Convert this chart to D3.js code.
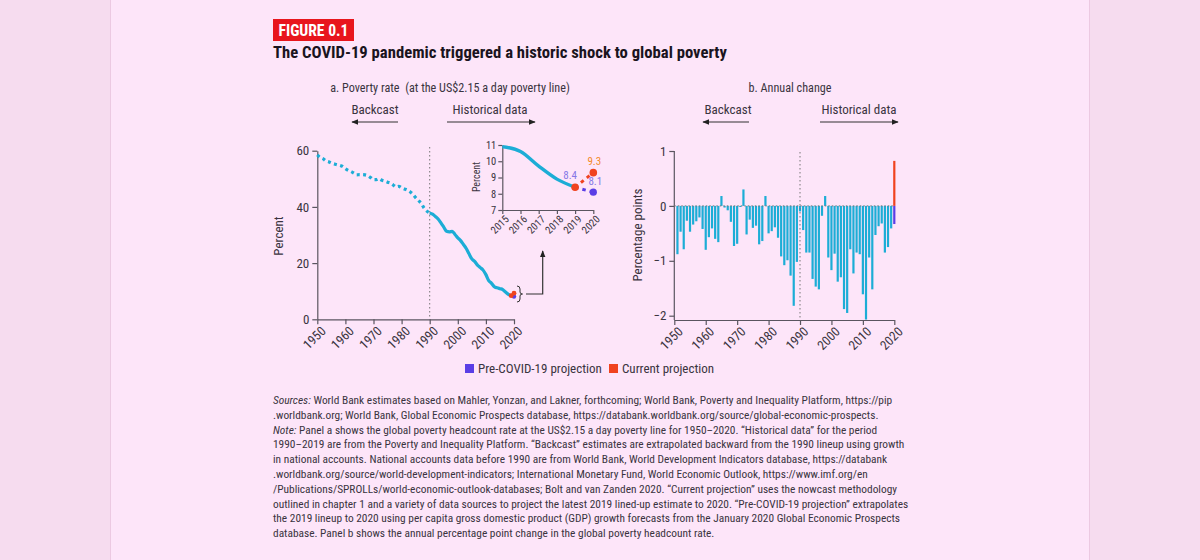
<!DOCTYPE html>
<html><head><meta charset="utf-8">
<script src="https://cdn.jsdelivr.net/npm/d3@7"></script>
<style>
html,body{margin:0;padding:0;background:#f6dcef;}
svg{display:block}
text{font-family:"Liberation Sans Narrow","Roboto Condensed","DejaVu Sans Condensed","Liberation Sans",sans-serif;font-stretch:condensed;}
</style></head><body>
<svg id="c" width="1200" height="560"></svg>
<script>
// ---------- DATA ----------
const backcastYears = [1950,1951,1952,1953,1954,1955,1956,1957,1958,1959,1960,1961,1962,1963,1964,1965,1966,1967,1968,1969,1970,1971,1972,1973,1974,1975,1976,1977,1978,1979,1980,1981,1982,1983,1984,1985,1986,1987,1988,1989,1990];
const backcastRate = [58.5,57.6,57.2,56.4,56.1,55.6,55.3,55.0,54.8,54.4,53.6,53.0,52.6,52.0,51.4,51.5,51.5,51.4,51.1,50.4,49.7,49.7,50.0,49.5,49.2,48.8,48.5,47.8,47.1,47.3,46.8,46.4,46.0,45.4,44.5,43.3,42.3,41.2,39.6,38.5,37.8];
const histYears = [1990,1991,1992,1993,1994,1995,1996,1997,1998,1999,2000,2001,2002,2003,2004,2005,2006,2007,2008,2009,2010,2011,2012,2013,2014,2015,2016,2017,2018,2019];
const histRate = [37.8,37.4,36.6,35.7,34.3,32.8,31.3,31.1,31.3,30.2,29.0,28.0,26.6,25.2,23.3,21.5,20.6,19.3,18.4,17.5,15.9,13.8,12.8,11.6,11.2,10.9,10.6,9.7,8.9,8.4];
const projYears = [2019,2020];
const currentProj = [8.4,9.3];
const preCovidProj = [8.4,8.1];
const changeYears = [1951,1952,1953,1954,1955,1956,1957,1958,1959,1960,1961,1962,1963,1964,1965,1966,1967,1968,1969,1970,1971,1972,1973,1974,1975,1976,1977,1978,1979,1980,1981,1982,1983,1984,1985,1986,1987,1988,1989,1990,1991,1992,1993,1994,1995,1996,1997,1998,1999,2000,2001,2002,2003,2004,2005,2006,2007,2008,2009,2010,2011,2012,2013,2014,2015,2016,2017,2018,2019];
const changeValues = [-0.88,-0.47,-0.79,-0.27,-0.47,-0.34,-0.28,-0.21,-0.42,-0.80,-0.57,-0.41,-0.60,-0.66,0.18,-0.03,-0.08,-0.29,-0.73,-0.69,-0.02,0.30,-0.52,-0.25,-0.40,-0.36,-0.70,-0.64,0.18,-0.50,-0.46,-0.39,-0.58,-0.92,-1.08,-0.99,-1.27,-1.82,-1.02,-0.10,-0.44,-0.85,-0.85,-1.33,-1.47,-1.52,-0.18,0.18,-0.94,-1.17,-0.87,-1.38,-1.30,-1.88,-1.95,-0.79,-1.23,-0.85,-0.88,-1.61,-2.07,-0.94,-1.52,-0.53,-0.37,-0.32,-0.85,-0.75,-0.41];
const change2020Year = 2020;
const change2020Current = 0.82;
const change2020PreCovid = -0.33;
const xTicksMain = [1950,1960,1970,1980,1990,2000,2010,2020];
const yTicksA = [0,20,40,60];
const yTicksB = [-2,-1,0,1];
const xTicksInset = [2015,2016,2017,2018,2019,2020];
const yTicksInset = [7,8,9,10,11];
const legendLabels = ["Pre-COVID-19 projection","Current projection"];
const figLabel = "FIGURE 0.1";
const titleText = "The COVID-19 pandemic triggered a historic shock to global poverty";
const panelATitle = "a. Poverty rate  (at the US$2.15 a day poverty line)";
const panelBTitle = "b. Annual change";
const footLines = [
 [["Sources:",true],[" World Bank estimates based on Mahler, Yonzan, and Lakner, forthcoming; World Bank, Poverty and Inequality Platform, https://pip",false]],
 [[".worldbank.org; World Bank, Global Economic Prospects database, https://databank.worldbank.org/source/global-economic-prospects.",false]],
 [["Note:",true],[" Panel a shows the global poverty headcount rate at the US$2.15 a day poverty line for 1950–2020. “Historical data” for the period",false]],
 [["1990–2019 are from the Poverty and Inequality Platform. “Backcast” estimates are extrapolated backward from the 1990 lineup using growth",false]],
 [["in national accounts. National accounts data before 1990 are from World Bank, World Development Indicators database, https://databank",false]],
 [[".worldbank.org/source/world-development-indicators; International Monetary Fund, World Economic Outlook, https://www.imf.org/en",false]],
 [["/Publications/SPROLLs/world-economic-outlook-databases; Bolt and van Zanden 2020. “Current projection” uses the nowcast methodology",false]],
 [["outlined in chapter 1 and a variety of data sources to project the latest 2019 lined-up estimate to 2020. “Pre-COVID-19 projection” extrapolates",false]],
 [["the 2019 lineup to 2020 using per capita gross domestic product (GDP) growth forecasts from the January 2020 Global Economic Prospects",false]],
 [["database. Panel b shows the annual percentage point change in the global poverty headcount rate.",false]]
];

// ---------- STYLE ----------
const CYAN = "#1cadd6", RED = "#f0431f", PURPLE = "#5a3ee6", AX = "#5a5560", TXT = "#3a3440";
const svg = d3.select("#c");

function fit(sel, w){ // scale font to target width
  const fs = parseFloat(sel.attr("font-size"));
  const cw = sel.node().getComputedTextLength();
  sel.attr("font-size", fs * w / cw);
  return fs * w / cw;
}

// page
svg.append("rect").attr("x",110).attr("y",0).attr("width",980).attr("height",560).attr("fill","#fde5f9");
svg.append("line").attr("x1",110.5).attr("x2",110.5).attr("y1",0).attr("y2",560).attr("stroke","#ecc9e2");
svg.append("line").attr("x1",1089.5).attr("x2",1089.5).attr("y1",0).attr("y2",560).attr("stroke","#ecc9e2");

// header
svg.append("rect").attr("x",273).attr("y",19).attr("width",81).attr("height",22).attr("fill","#e8161d");
const fl = svg.append("text").attr("x",313.5).attr("y",36).attr("text-anchor","middle").attr("fill","#fff").attr("font-weight","bold").attr("font-size",16).text(figLabel);
fit(fl,70);
const tt = svg.append("text").attr("x",273).attr("y",58).attr("fill","#1a1420").attr("font-weight","bold").attr("font-size",17).text(titleText);
fit(tt,454);

// arrow marker
const defs = svg.append("defs");
defs.append("marker").attr("id","ah").attr("viewBox","0 0 10 10").attr("refX",9).attr("refY",5)
  .attr("markerWidth",7).attr("markerHeight",7).attr("markerUnits","userSpaceOnUse").attr("orient","auto-start-reverse")
  .append("path").attr("d","M0,1 L10,5 L0,9 Z").attr("fill","#222");

function headerArrows(cxBack, x0b, x1b, cxHist, x0h, x1h){
  svg.append("text").attr("x",cxBack).attr("y",114).attr("text-anchor","middle").attr("font-size",13).attr("fill",TXT).text("Backcast");
  svg.append("text").attr("x",cxHist).attr("y",114).attr("text-anchor","middle").attr("font-size",13).attr("fill",TXT).text("Historical data");
  svg.append("line").attr("x1",x1b).attr("x2",x0b).attr("y1",122).attr("y2",122).attr("stroke","#333").attr("stroke-width",1.2).attr("marker-end","url(#ah)");
  svg.append("line").attr("x1",x0h).attr("x2",x1h).attr("y1",122).attr("y2",122).attr("stroke","#333").attr("stroke-width",1.2).attr("marker-end","url(#ah)");
}

function styleAxis(g, fs){
  g.selectAll(".domain").attr("stroke",AX).attr("stroke-width",1.2);
  g.selectAll(".tick line").attr("stroke",AX).attr("stroke-width",1.2);
  g.selectAll(".tick text").attr("fill",TXT).attr("font-size",fs).attr("font-family",null);
}
function rotateX(g){
  g.selectAll(".tick text").attr("text-anchor","end").attr("dx","-0.2em").attr("dy","0.55em").attr("transform","rotate(-45)");
}
const fmt = d3.format("d");

// ---------- PANEL A ----------
const at = svg.append("text").attr("x",450).attr("y",92).attr("text-anchor","middle").attr("font-size",13).attr("fill",TXT).style("white-space","pre").text(panelATitle);
fit(at,240);
headerArrows(375,352,398,490,447,535);

const xA = d3.scaleLinear().domain([1950,2020]).range([317.3,514]);
const yA = d3.scaleLinear().domain([0,60]).range([319.3,150.7]);
const gAy = svg.append("g").attr("transform","translate(317.3,0)").call(d3.axisLeft(yA).tickValues(yTicksA).tickFormat(fmt).tickSize(5).tickSizeOuter(0).tickPadding(3));
styleAxis(gAy,13);
const gAx = svg.append("g").attr("transform","translate(0,319.3)").call(d3.axisBottom(xA).tickValues(xTicksMain).tickFormat(fmt).tickSize(5).tickSizeOuter(0));
styleAxis(gAx,13); rotateX(gAx);
svg.append("text").attr("transform","translate(283,236) rotate(-90)").attr("text-anchor","middle").attr("font-size",13).attr("fill",TXT).text("Percent");
// 1990 divider
svg.append("line").attr("x1",xA(1990)).attr("x2",xA(1990)).attr("y1",147).attr("y2",319).attr("stroke","#777").attr("stroke-width",1).attr("stroke-dasharray","1.5,2.5");

const lineA = d3.line().x(d=>xA(d[0])).y(d=>yA(d[1])).curve(d3.curveMonotoneX);
svg.append("path").attr("d",lineA(d3.zip(backcastYears,backcastRate))).attr("fill","none").attr("stroke",CYAN).attr("stroke-width",3.2).attr("stroke-dasharray","3,3.4");
svg.append("path").attr("d",lineA(d3.zip(histYears,histRate))).attr("fill","none").attr("stroke",CYAN).attr("stroke-width",3.2).attr("stroke-linejoin","round");
// projections small
svg.append("line").attr("x1",xA(projYears[0])).attr("x2",xA(projYears[1])).attr("y1",yA(preCovidProj[0])).attr("y2",yA(preCovidProj[1])).attr("stroke",PURPLE).attr("stroke-width",2);
svg.append("circle").attr("cx",xA(projYears[1])).attr("cy",yA(preCovidProj[1])).attr("r",2.2).attr("fill",PURPLE);
svg.append("line").attr("x1",xA(projYears[0])).attr("x2",xA(projYears[1])).attr("y1",yA(currentProj[0])).attr("y2",yA(currentProj[1])).attr("stroke",RED).attr("stroke-width",2);
svg.append("circle").attr("cx",xA(projYears[0])).attr("cy",yA(currentProj[0])).attr("r",2.4).attr("fill",RED);
svg.append("circle").attr("cx",xA(projYears[1])).attr("cy",yA(currentProj[1])).attr("r",2.4).attr("fill",RED);
// brace + pointer
const bx = xA(2020)+3, by = yA(9);
svg.append("path").attr("d",`M${bx},${by-8} q3,0 3,3 v3 q0,2 2.5,2 q-2.5,0 -2.5,2 v3 q0,3 -3,3`).attr("fill","none").attr("stroke","#333").attr("stroke-width",1);
svg.append("path").attr("d",`M${bx+9},${by} H542.7 V251`).attr("fill","none").attr("stroke","#333").attr("stroke-width",1.2).attr("marker-end","url(#ah)");

// inset
const xI = d3.scaleLinear().domain([2015,2020]).range([502.3,593.3]);
const yI = d3.scaleLinear().domain([7,11]).range([210,145]);
const gIy = svg.append("g").attr("transform","translate(502.3,0)").call(d3.axisLeft(yI).tickValues(yTicksInset).tickFormat(fmt).tickSize(4).tickSizeOuter(0).tickPadding(2));
styleAxis(gIy,10.5);
const gIx = svg.append("g").attr("transform","translate(0,210)").call(d3.axisBottom(xI).tickValues(xTicksInset).tickFormat(fmt).tickSize(4).tickSizeOuter(0).tickPadding(2));
styleAxis(gIx,10.5); rotateX(gIx);
svg.append("text").attr("transform","translate(480,177) rotate(-90)").attr("text-anchor","middle").attr("font-size",10).attr("fill",TXT).text("Percent");
const insetPts = d3.zip(histYears,histRate).filter(d=>d[0]>=2015);
svg.append("path").attr("d",d3.line().x(d=>xI(d[0])).y(d=>yI(d[1])).curve(d3.curveMonotoneX)(insetPts)).attr("fill","none").attr("stroke",CYAN).attr("stroke-width",3.4);
svg.append("line").attr("x1",xI(projYears[0])).attr("x2",xI(projYears[1])).attr("y1",yI(preCovidProj[0])).attr("y2",yI(preCovidProj[1])).attr("stroke",PURPLE).attr("stroke-width",3).attr("stroke-dasharray","3.5,4");
svg.append("circle").attr("cx",xI(projYears[1])).attr("cy",yI(preCovidProj[1])).attr("r",3.6).attr("fill",PURPLE);
svg.append("line").attr("x1",xI(projYears[0])).attr("x2",xI(projYears[1])).attr("y1",yI(currentProj[0])).attr("y2",yI(currentProj[1])).attr("stroke",RED).attr("stroke-width",3).attr("stroke-dasharray","3.5,4");
svg.append("circle").attr("cx",xI(projYears[0])).attr("cy",yI(currentProj[0])).attr("r",3.8).attr("fill",RED);
svg.append("circle").attr("cx",xI(projYears[1])).attr("cy",yI(currentProj[1])).attr("r",3.8).attr("fill",RED);
svg.append("text").attr("x",xI(projYears[0])-5).attr("y",yI(currentProj[0])-8).attr("text-anchor","middle").attr("font-size",11).attr("fill","#8677e6").text(preCovidProj[0].toFixed(1));
svg.append("text").attr("x",xI(projYears[1])+1).attr("y",yI(currentProj[1])-8).attr("text-anchor","middle").attr("font-size",11).attr("fill","#f38a2a").text(currentProj[1].toFixed(1));
svg.append("text").attr("x",xI(projYears[1])+2).attr("y",yI(preCovidProj[1])-7).attr("text-anchor","middle").attr("font-size",11).attr("fill","#8677e6").text(preCovidProj[1].toFixed(1));

// ---------- PANEL B ----------
svg.append("text").attr("x",790).attr("y",92).attr("text-anchor","middle").attr("font-size",at.attr("font-size")).attr("fill",TXT).text(panelBTitle);
headerArrows(728,703,749,859,820,898);

const xB = d3.scaleLinear().domain([1950,2020]).range([674.3,894.3]);
const yB = d3.scaleLinear().domain([-2,1]).range([315.7,151]);
const gBy = svg.append("g").attr("transform","translate(674.3,0)").call(d3.axisLeft(yB).tickValues(yTicksB).tickFormat(fmt).tickSize(5).tickSizeOuter(0).tickPadding(3));
gBy.select(".domain").attr("d","M0,151V320");
styleAxis(gBy,13);
gBy.selectAll(".tick text").text(d=>d<0?"\u2212"+Math.abs(d):d);
const gBx = svg.append("g").attr("transform","translate(0,320)").call(d3.axisBottom(xB).tickValues(xTicksMain).tickFormat(fmt).tickSize(5).tickSizeOuter(0));
styleAxis(gBx,13); rotateX(gBx);
svg.append("text").attr("transform","translate(642,235) rotate(-90)").attr("text-anchor","middle").attr("font-size",13).attr("fill",TXT).text("Percentage points");

const bw = 2.2;
svg.append("g").selectAll("rect").data(d3.zip(changeYears,changeValues)).join("rect")
  .attr("x",d=>xB(d[0])-bw/2).attr("width",bw)
  .attr("y",d=>yB(Math.max(0,d[1]))).attr("height",d=>Math.abs(yB(d[1])-yB(0)))
  .attr("fill",CYAN);
svg.append("rect").attr("x",xB(change2020Year)-bw/2).attr("width",bw).attr("y",yB(change2020Current)).attr("height",yB(0)-yB(change2020Current)).attr("fill",RED);
svg.append("rect").attr("x",xB(change2020Year)-bw/2).attr("width",bw).attr("y",yB(0)).attr("height",yB(change2020PreCovid)-yB(0)).attr("fill",PURPLE);
// zero dotted line & divider
svg.append("line").attr("x1",xB(1950)).attr("x2",xB(2020)).attr("y1",yB(0)).attr("y2",yB(0)).attr("stroke","#777").attr("stroke-width",1).attr("stroke-dasharray","1.5,2");
svg.append("line").attr("x1",xB(1990)).attr("x2",xB(1990)).attr("y1",152).attr("y2",320).attr("stroke","#777").attr("stroke-width",1).attr("stroke-dasharray","1.5,2.5");

// ---------- LEGEND ----------
const legColors = [PURPLE, RED];
const legX = [465, 609];
legendLabels.forEach((l,i)=>{
  svg.append("rect").attr("x",legX[i]).attr("y",364).attr("width",9).attr("height",9).attr("fill",legColors[i]);
  svg.append("text").attr("x",legX[i]+13).attr("y",372.5).attr("font-size",13).attr("fill",TXT).text(l);
});

// ---------- FOOTNOTE ----------
let footFs = 11.5;
footLines.forEach((ln,i)=>{
  const t = svg.append("text").attr("x",273).attr("y",404 + i*14.8).attr("font-size",footFs).attr("fill",TXT);
  ln.forEach(s=>t.append("tspan").attr("font-style",s[1]?"italic":null).text(s[0]));
  if(i===0){ footFs = fit(t,620); }
});
</script></body></html>
